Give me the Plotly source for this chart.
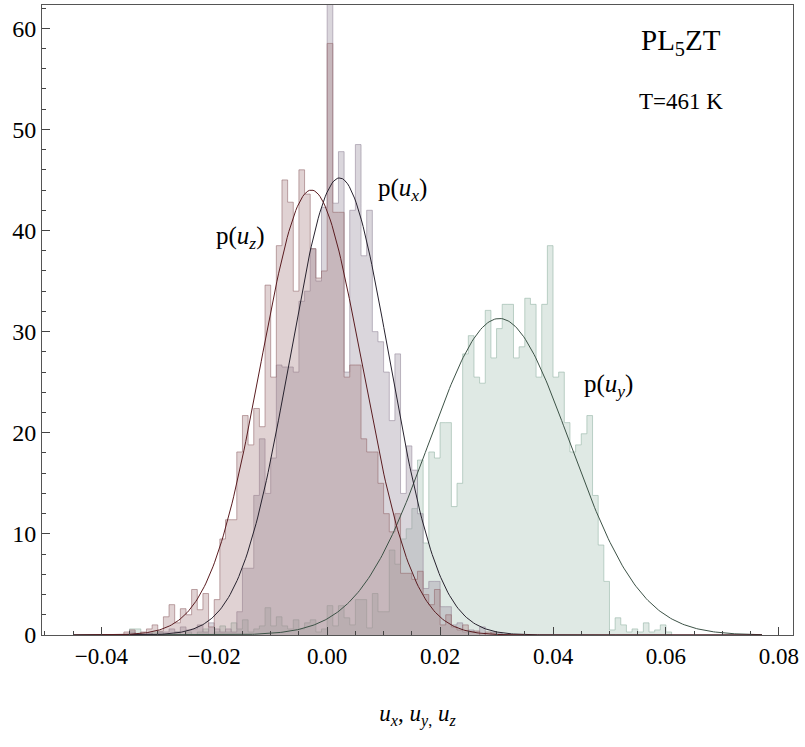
import plotly.graph_objects as go
import math

BIN_WIDTH = 0.001

# histogram heights (PDF), bins of width 0.001, first bin left edge = start*0.001
uz_start = -36
uz_vals = [0.3, 0.5, 0.0, 0.3, 0.6, 1.0, 0.4, 1.8, 3.0, 1.2, 2.6, 2.0, 4.5, 2.5, 4.1, 0.8,
           3.5, 9.5, 11.4, 11.4, 18.1, 21.7, 18.8, 22.4, 20.6, 34.6, 25.5, 38.5, 45.0, 42.8,
           34.0, 46.0, 43.6, 38.2, 35.3, 36.0, 58.5, 41.8, 41.8, 25.5, 26.7, 26.7, 19.4, 18.1,
           18.1, 15.0, 12.0, 10.2, 12.0, 6.1, 6.1, 5.5, 6.3, 4.0, 3.0, 4.5, 1.0, 2.0, 0.8, 0.5,
           1.0, 0.3, 0.4, 0.0, 0.3, 0.2]

ux_start = -35
ux_vals = [0.3, 0.0, 0.0, 0.2, 0.0, 0.3, 0.3, 0.6, 0.3, 0.8, 0.5, 0.6, 1.0, 0.3, 1.2, 0.6,
           0.3, 0.6, 0.3, 2.3, 6.6, 6.6, 13.8, 19.4, 14.0, 17.5, 26.7, 26.5, 26.5, 26.0, 33.0,
           34.0, 38.2, 35.0, 42.3, 64.0, 42.7, 47.8, 26.0, 42.0, 48.5, 37.5, 42.0, 30.0, 29.0,
           26.0, 21.2, 27.8, 14.0, 18.7, 16.3, 12.0, 4.6, 5.3, 5.3, 2.8, 2.8, 1.0, 1.2, 0.3,
           0.5, 0.3, 0.8, 0.0, 0.3, 0.2]

uy_start = -35
uy_vals = [0.6, 0.6, 0.0, 0.0, 0.3, 0.3, 0.0, 0.0, 0.3, 0.0, 0.3, 0.0, 0.3, 0.6, 0.0, 0.3,
           0.9, 0.3, 1.2, 0.6, 1.5, 0.3, 0.6, 0.9, 2.7, 0.9, 1.8, 0.9, 0.6, 1.5, 0.6, 1.2,
           1.5, 0.3, 0.6, 2.9, 0.9, 2.9, 1.7, 1.0, 3.5, 3.5, 0.7, 4.1, 2.3, 2.3, 8.4, 7.0,
           9.5, 10.5, 12.5, 17.3, 9.1, 18.1, 17.5, 21.0, 21.0, 12.7, 15.0, 27.8, 29.6, 25.5,
           24.9, 32.1, 27.4, 30.3, 32.7, 32.7, 27.4, 28.5, 33.3, 32.7, 25.5, 32.7, 38.5, 25.5,
           26.0, 21.0, 18.1, 18.8, 19.9, 21.7, 13.8, 8.9, 5.3, 0.5, 1.7, 1.0, 0.3, 0.6, 0.3,
           1.2, 0.3, 0.5, 1.0, 0.3]

# fitted normal curves: (mean, sigma, peak height)
fit_z = (-0.0028, 0.0090, 44.0)
fit_x = (0.0022, 0.0088, 45.2)
fit_y = (0.0305, 0.0125, 31.3)
curve_range = (-0.045, 0.077)

x_ticks = [-0.04, -0.02, 0.00, 0.02, 0.04, 0.06, 0.08]
y_ticks = [0, 10, 20, 30, 40, 50, 60]

SERIF = "Liberation Serif"


def step_xy(start, vals):
    xs = [start * BIN_WIDTH]
    ys = [0.0]
    for i, v in enumerate(vals):
        xs.append((start + i) * BIN_WIDTH)
        ys.append(v)
    xs.append((start + len(vals)) * BIN_WIDTH)
    ys.append(0.0)
    return xs, ys


def gauss(params, n=400):
    mu, s, a = params
    lo, hi = curve_range
    xs = [lo + (hi - lo) * i / (n - 1) for i in range(n)]
    ys = [a * math.exp(-0.5 * ((x - mu) / s) ** 2) for x in xs]
    return xs, ys


fig = go.Figure()

hist_styles = [
    (uy_start, uy_vals, "rgba(150,182,166,0.30)", "rgba(150,182,166,0.6)"),
    (ux_start, ux_vals, "rgba(158,146,164,0.38)", "rgba(150,138,156,0.6)"),
    (uz_start, uz_vals, "rgba(165,122,126,0.34)", "rgba(150,108,112,0.6)"),
]
for start, vals, fillc, linec in hist_styles:
    xs, ys = step_xy(start, vals)
    fig.add_trace(go.Scatter(x=xs, y=ys, mode="lines", line=dict(shape="hv", color=linec, width=1),
                             fill="tozeroy", fillcolor=fillc, hoverinfo="skip", showlegend=False))

for params, col in [(fit_y, "#3c5246"), (fit_x, "#27222e"), (fit_z, "#5a1c20")]:
    xs, ys = gauss(params)
    fig.add_trace(go.Scatter(x=xs, y=ys, mode="lines", line=dict(color=col, width=1),
                             hoverinfo="skip", showlegend=False))

annots = [
    (0.0627, 58.6, "PL<sub>5</sub>ZT", 29),
    (0.0627, 52.8, "T=461 K", 23),
    (0.0134, 44.1, "p(<i>u</i><sub><i>x</i></sub>)", 25),
    (-0.0155, 39.3, "p(<i>u</i><sub><i>z</i></sub>)", 25),
    (0.0498, 24.7, "p(<i>u</i><sub><i>y</i></sub>)", 25),
]
for x, y, t, s in annots:
    fig.add_annotation(x=x, y=y, text=t, showarrow=False, xref="x", yref="y",
                       font=dict(family=SERIF, size=s, color="black"))

fig.update_xaxes(range=[-0.0505, 0.0825], tickvals=x_ticks, tickformat=".2f",
                 ticks="inside", ticklen=8, tickcolor="#444", automargin=False,
                 minor=dict(dtick=0.005, ticks="inside", ticklen=4, tickcolor="#444"),
                 showline=True, linecolor="#555", linewidth=1, mirror=True, showgrid=False, zeroline=False,
                 tickfont=dict(family=SERIF, size=23, color="black"),
                 title=dict(text="<i>u</i><sub><i>x</i></sub>, <i>u</i><sub><i>y</i>,</sub> <i>u</i><sub><i>z</i></sub>",
                            font=dict(family=SERIF, size=23, color="black"), standoff=37))
fig.update_yaxes(range=[0, 62.3], tickvals=y_ticks,
                 ticks="inside", ticklen=8, tickcolor="#444", automargin=False,
                 minor=dict(dtick=2, ticks="inside", ticklen=4, tickcolor="#444"),
                 showline=True, linecolor="#555", linewidth=1, mirror=True, showgrid=False, zeroline=False,
                 tickfont=dict(family=SERIF, size=24, color="black"))

fig.update_layout(width=805, height=747, margin=dict(l=42, r=12, t=5, b=112),
                  plot_bgcolor="white", paper_bgcolor="white")

fig.write_html("out.html", config={"displayModeBar": False},
               post_script="document.body.style.margin='0';document.body.style.overflow='hidden';")
